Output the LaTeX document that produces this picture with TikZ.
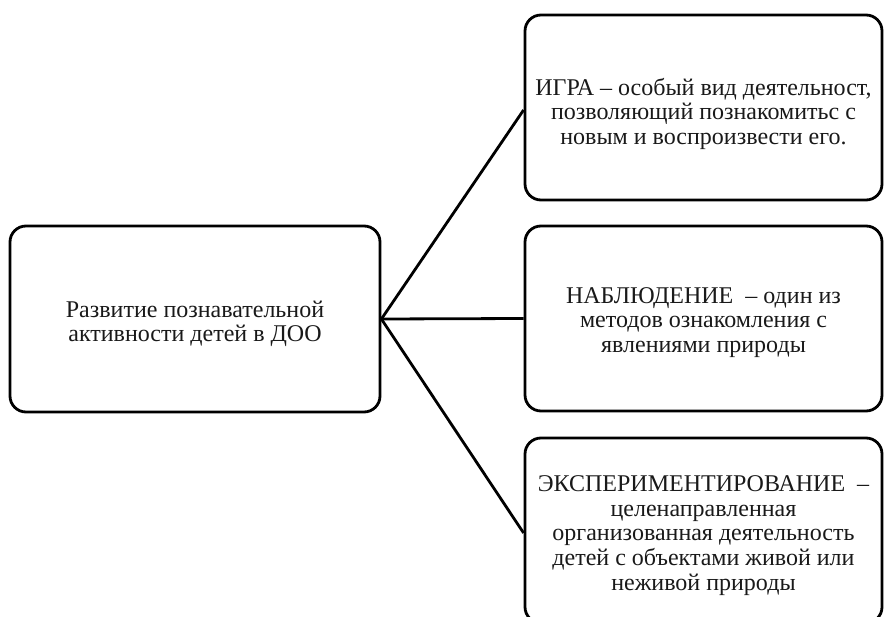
\documentclass[tikz,border=0pt]{standalone}
\usepackage{fontspec}
\setmainfont{Liberation Serif}
\newfontfamily\boxfont{Liberation Serif}
\begin{document}
\begin{tikzpicture}[x=1pt,y=-1pt,
  box/.style={draw=black,line width=2.8pt,rounded corners=16pt,align=center,
    inner sep=0pt,font=\boxfont\fontsize{24}{24.6}\selectfont,text=black!90},
  link/.style={draw=black,line width=2.8pt}]
\useasboundingbox (0,0) rectangle (885,617);
\clip (0,0) rectangle (885,617);
\node[box,minimum width=370pt,minimum height=186pt] (L) at (195,319)
  {\rule{0pt}{26pt}Развитие познавательной\\активности детей в ДОО};
\node[box,minimum width=357pt,minimum height=185pt] (T) at (703.5,107.5)
  {\rule{0pt}{30pt}ИГРА – особый вид деятельност,\\позволяющий познакомитьс с\\новым и воспроизвести его.};
\node[box,minimum width=357pt,minimum height=185pt] (M) at (703.5,318.5)
  {\rule{0pt}{24pt}НАБЛЮДЕНИЕ \ – один из\\методов ознакомления с\\явлениями природы};
\node[box,minimum width=357pt,minimum height=185pt] (B) at (703.5,530.5)
  {\rule{0pt}{26pt}ЭКСПЕРИМЕНТИРОВАНИЕ \ –\\целенаправленная\\организованная деятельность\\детей с объектами живой или\\неживой природы};
\draw[link] (L.east) -- ([yshift=-2.5pt]T.west);
\draw[link] (L.east) -- (M.west);
\draw[link] (L.east) -- ([yshift=-2.5pt]B.west);
\end{tikzpicture}
\end{document}
